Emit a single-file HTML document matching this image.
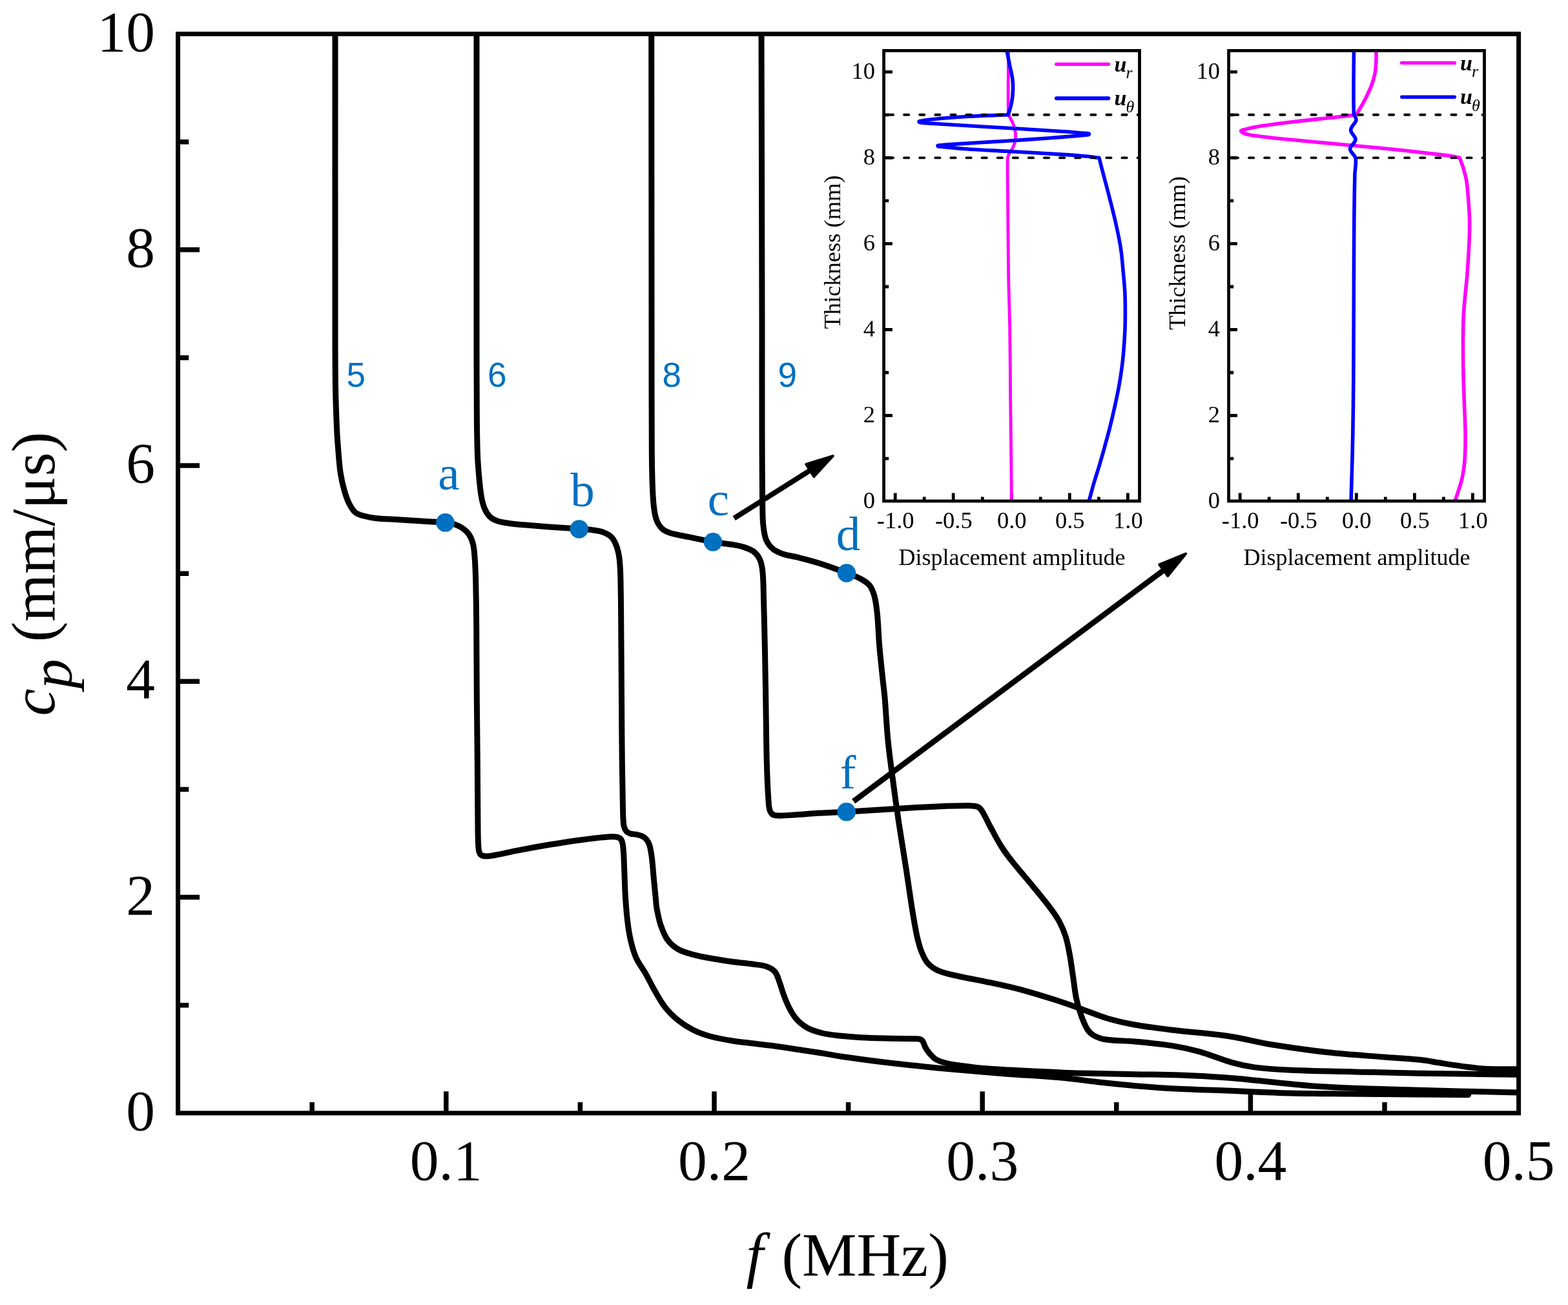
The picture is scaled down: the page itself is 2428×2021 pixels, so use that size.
<!DOCTYPE html>
<html lang="en"><head><meta charset="utf-8"><title>Dispersion curves</title>
<style>html,body{margin:0;padding:0;background:#fff}svg{display:block}text{font-family:"Liberation Serif","DejaVu Serif",serif;fill:#000}.sans{font-family:"Liberation Sans","DejaVu Sans",sans-serif}.it{font-style:italic}.bl{fill:#0070c0}</style></head><body>
<svg width="2428" height="2021" viewBox="0 0 2428 2021">
<rect width="2428" height="2021" fill="#fff"/>
<defs><clipPath id="pc"><rect x="275.6" y="52.6" width="2076" height="1671.2"/></clipPath></defs>
<g fill="none" stroke="#000" stroke-width="9" stroke-linejoin="round" stroke-linecap="butt" clip-path="url(#pc)">
<path d="M519 46C519 197.3 518.9 348.7 519 500C519 533.3 519 566.7 519.5 600C519.9 622.2 520.7 644.5 521.7 666.7C522.2 677.8 523.1 688.9 524 700C524.9 711 525.6 722.1 527.3 733C528.7 742.1 530.8 751.1 533.3 760C535.2 766.8 537.5 773.6 540.7 780C543.1 784.8 545.9 789.8 550 793.3C553.7 796.4 558.7 797.7 563.3 799C569.8 800.8 576.6 802 583.3 802.7C594.4 803.9 605.6 804 616.7 804.7C630 805.5 643.4 806.5 656.7 807.3C667.6 808 678.5 808.3 689.3 809.3C694 809.7 698.8 810.2 703.3 811.7C708 813.3 712.6 815.4 716.7 818.3C720.5 821 724.2 824.3 726.7 828.3C729.6 832.8 731.5 838 732.7 843.3C734.4 851 734.7 858.9 735.3 866.7C736.1 877.8 736.4 888.9 736.7 900C737.2 922.2 737.5 944.5 737.7 966.7C738 1004.5 738 1042.2 738.3 1080C738.6 1113.3 739 1146.7 739.3 1180C739.6 1213.3 739.6 1246.7 740 1280C740.1 1291.1 740 1302.2 741 1313.3C741.3 1316.8 741.8 1320.6 744 1323.3C745.8 1325.4 749 1325.9 751.7 1326C756.7 1326.2 761.7 1325.2 766.7 1324.3C777.9 1322.3 788.9 1319.4 800 1317.3C816.6 1314.1 833.3 1311.1 850 1308.3C866.6 1305.5 883.3 1303 900 1300.7C911.1 1299.2 922.2 1297.7 933.3 1296.7C939.9 1296.1 946.7 1295.2 953.3 1296C956.4 1296.4 960 1297.4 961.7 1300C964.3 1303.8 964.5 1308.8 965 1313.3C966.2 1324.4 966.2 1335.6 966.7 1346.7C967.3 1360 967.5 1373.4 968.3 1386.7C969.1 1400.1 970.1 1413.4 971.7 1426.7C972.9 1436.8 974.4 1446.8 976.7 1456.7C978.8 1465.7 981.2 1474.8 985 1483.3C989 1492.2 995.2 1499.8 1000 1508.3C1004.6 1516.5 1008.6 1525.1 1013.3 1533.3C1018.6 1542.4 1023.5 1551.7 1030 1560C1035.8 1567.4 1042.7 1574.1 1050 1580C1057.2 1585.8 1065 1590.9 1073.3 1595C1081.8 1599.3 1090.8 1602.5 1100 1605C1110.9 1608 1122.1 1609.9 1133.3 1611.7C1144.4 1613.5 1155.6 1614.6 1166.7 1616C1177.8 1617.4 1188.9 1618.5 1200 1620C1211.1 1621.5 1222.2 1623.3 1233.3 1625C1244.4 1626.7 1255.6 1628.2 1266.7 1630C1277.8 1631.8 1288.9 1634.1 1300 1635.7C1328.5 1639.8 1357.1 1643.7 1385.7 1647C1414.2 1650.3 1442.8 1653 1471.4 1655.7C1499.9 1658.3 1528.5 1660.7 1557 1662.9C1585.6 1665.1 1614.3 1666.4 1642.9 1669C1662 1670.7 1680.9 1673.6 1700 1675.7C1719 1677.8 1738 1679.7 1757 1681.4C1776.1 1683.1 1795.2 1684.7 1814.3 1685.7C1842.8 1687.2 1871.4 1687.9 1900 1689C1933.1 1690.3 1966.3 1692 1999.4 1692.9C2027.9 1693.7 2056.5 1693.7 2085 1694C2123.1 1694.4 2161.3 1694.7 2199.4 1695C2224.2 1695.2 2248.9 1695.3 2273.7 1695.4" stroke-linecap="round"/>
<path d="M738 46C738 197.3 737.9 348.7 738 500C738 544.3 738 588.7 738.3 633C738.4 655.3 738.6 677.7 739.3 700C739.6 711 740.4 722 741.3 733C742.3 744.3 743.2 755.5 745 766.7C746.1 773.5 747.5 780.3 750 786.7C751.9 791.6 754.6 796.3 758.3 800C761.5 803.2 765.7 805.3 770 806.7C776.4 808.9 783.3 809.7 790 810.7C798.9 812 807.8 812.5 816.7 813.3C827.8 814.3 838.9 815.2 850 816C865.6 817.1 881.1 817.9 896.7 819C903.4 819.5 910.1 819.8 916.7 820.7C922.3 821.5 928 822.1 933.3 824C938.1 825.8 943.1 828 946.7 831.7C950.6 835.8 953.1 841.3 955 846.7C957.3 853.1 958.5 859.9 959.3 866.7C960.5 877.7 960.8 888.9 961 900C961.7 933.3 961.7 966.7 962 1000C962.2 1026.7 962.3 1053.3 962.5 1080C962.7 1113.3 962.9 1146.7 963.3 1180C963.5 1200 963.9 1220 964.3 1240C964.5 1249.3 964.5 1258.7 965 1268C965.2 1272 965.3 1276.1 966.3 1280C967 1282.7 968.1 1285.5 970 1287.6C971.5 1289.3 973.8 1290.3 976 1291C979.1 1292 982.5 1291.7 985.7 1292.4C988.9 1293.1 992.1 1293.7 995 1295.2C997.5 1296.5 999.7 1298.3 1001.4 1300.5C1003.3 1302.9 1004.7 1305.7 1005.7 1308.6C1007 1312.3 1007.4 1316.2 1008.1 1320C1008.8 1324 1009.4 1328 1009.8 1332C1010.9 1342.4 1011.6 1352.9 1012.6 1363.3C1013.4 1372.2 1014.3 1381.1 1015.2 1390C1015.8 1395.7 1016 1401.4 1017 1407C1018.7 1415.9 1020.4 1424.8 1023.3 1433.3C1025.9 1440.8 1028.6 1448.6 1033.3 1455C1037.7 1461.1 1043.5 1466.2 1050 1470C1057.1 1474.1 1065.4 1476.1 1073.3 1478.3C1082.1 1480.8 1091 1482.4 1100 1484C1111.1 1486 1122.2 1487.7 1133.3 1489.3C1144.4 1490.8 1155.6 1491.8 1166.7 1493.3C1173.4 1494.2 1180.3 1494.5 1186.7 1496.7C1191.6 1498.4 1196.6 1501 1200 1505C1203.6 1509.2 1204.8 1514.9 1206.7 1520C1209.2 1526.6 1210.8 1533.4 1213.3 1540C1215.8 1546.8 1218.4 1553.6 1221.7 1560C1225 1566.4 1228.5 1572.9 1233.3 1578.3C1238.1 1583.6 1243.7 1588.3 1250 1591.7C1257.2 1595.6 1265.3 1598 1273.3 1600C1282 1602.1 1291.1 1603 1300 1604C1311.1 1605.2 1322.2 1606.1 1333.3 1606.7C1348.9 1607.5 1364.4 1607.8 1380 1608.2C1391.7 1608.5 1403.3 1608.5 1415 1608.8C1418 1608.9 1421.1 1608.5 1424 1609.2C1425.7 1609.6 1427.5 1610.5 1428.5 1612C1430.7 1615.2 1431.3 1619.3 1433.3 1622.7C1435.5 1626.5 1438.1 1630 1441 1633.3C1443.3 1635.9 1445.7 1638.4 1448.6 1640.2C1451.9 1642.3 1455.5 1643.6 1459.2 1644.8C1463.2 1646.1 1467.3 1647 1471.4 1647.8C1476.5 1648.8 1481.6 1649.4 1486.7 1650.1C1496.8 1651.5 1506.9 1653 1517.1 1653.9C1532.3 1655.3 1547.6 1656.1 1562.9 1657C1578.1 1657.9 1593.4 1658.5 1608.6 1659.2C1623.8 1660 1639.1 1660.9 1654.3 1661.5C1669.5 1662 1684.8 1662.2 1700 1662.5C1719 1662.9 1738 1663.3 1757 1663.7C1780.7 1664.2 1804.3 1664.1 1828 1665C1852 1665.9 1876 1667.3 1900 1669C1914.1 1670 1928.2 1671.5 1942.3 1672.9C1970.9 1675.7 1999.4 1679.1 2028 1681.5C2047 1683.1 2066 1683.9 2085 1684.8C2099.3 1685.5 2113.7 1685.8 2128 1686.3C2142.3 1686.8 2156.6 1687.2 2170.9 1687.6C2200.6 1688.4 2230.3 1689.3 2260 1690C2292.7 1690.8 2325.3 1691.3 2358 1692"/>
<path d="M1008.7 46C1008.8 197.3 1008.9 348.7 1009 500C1009.1 566.7 1008.8 633.3 1009.3 700C1009.5 722.2 1009.7 744.5 1011 766.7C1011.6 777.9 1012.3 789.1 1015 800C1016.5 806 1019.2 812 1023.3 816.7C1026.7 820.7 1031.7 823.3 1036.7 825C1046.4 828.3 1056.7 829.6 1066.7 831.7C1079.1 834.3 1091.5 837.1 1104 839.3C1113.7 841 1123.6 841.7 1133.3 843.3C1138.9 844.2 1144.6 845 1150 846.7C1155.8 848.6 1161.8 850.4 1166.7 854C1171 857.2 1174.5 861.8 1176.7 866.7C1179.4 872.9 1180.4 879.9 1181 886.7C1182.4 902.2 1182.2 917.8 1182.7 933.3C1183.3 955.5 1183.8 977.8 1184.3 1000C1184.8 1026.7 1185.3 1053.3 1185.7 1080C1186.3 1113.3 1186.4 1146.7 1187.3 1180C1187.8 1200 1188.6 1220 1190 1240C1190.4 1245.6 1190.4 1251.5 1192.7 1256.7C1194 1259.6 1196.9 1262.3 1200 1262.7C1211 1264.1 1222.2 1262.3 1233.3 1261.7C1244.4 1261.1 1255.6 1259.9 1266.7 1259.3C1281.4 1258.5 1296 1258.1 1310.7 1257.3C1340.5 1255.6 1370.2 1253.4 1400 1251.7C1422.2 1250.4 1444.5 1249.2 1466.7 1248.3C1477.8 1247.9 1488.9 1247.5 1500 1247.7C1504.5 1247.8 1509.1 1247.8 1513.3 1249.3C1516.1 1250.3 1518.4 1252.5 1520 1255C1525.2 1262.9 1528.8 1271.7 1533.3 1280C1538.8 1290 1543.9 1300.3 1550 1310C1555.1 1318.1 1560.8 1325.8 1566.7 1333.3C1577.5 1346.9 1589 1359.9 1600 1373.3C1609 1384.3 1618.2 1395.3 1626.7 1406.7C1631.5 1413.1 1636.2 1419.6 1640 1426.7C1644 1434.1 1647.5 1441.9 1650 1450C1653.1 1459.8 1654.8 1469.9 1656.7 1480C1658.7 1491 1660 1502.2 1661.7 1513.3C1663.4 1524.4 1664.4 1535.7 1666.7 1546.7C1668.3 1554.6 1670.6 1562.4 1673.3 1570C1676.1 1578 1678.9 1586.1 1683.3 1593.3C1685.7 1597.3 1689.2 1601 1693.3 1603.3C1699.4 1606.7 1706.3 1609 1713.3 1610C1727.7 1612.2 1742.5 1611.5 1757 1612.9C1776.1 1614.7 1795.3 1616.4 1814.3 1619.4C1828.7 1621.7 1843 1624.7 1857 1628.6C1874.3 1633.4 1890.8 1640.8 1908 1645.7C1919.2 1648.9 1930.7 1651.4 1942.3 1652.9C1961.2 1655.3 1980.3 1656.4 1999.4 1657.3C2027.9 1658.6 2056.5 1658.9 2085 1659.6C2099.3 1660 2113.7 1660.3 2128 1660.6C2151.8 1661.1 2175.6 1661.8 2199.4 1662.2C2252.3 1663.1 2305.1 1663.6 2358 1664.3"/>
<path d="M1179 46C1179.3 197.3 1179.8 348.7 1180 500C1180.1 555.6 1179.8 611.1 1180 666.7C1180.1 711.1 1180.2 755.6 1181 800C1181.1 806.7 1181.7 813.4 1182.7 820C1183.6 825.7 1184.3 831.5 1186.7 836.7C1189 841.7 1192.4 846.5 1196.7 850C1201.5 853.9 1207.5 856.3 1213.3 858.3C1219.7 860.5 1226.7 861 1233.3 862.7C1244.5 865.5 1255.7 868.2 1266.7 871.7C1281.6 876.4 1296.3 881.8 1311 887.3C1318.6 890.1 1326.2 892.8 1333.3 896.7C1338.2 899.4 1343.3 902.3 1346.7 906.7C1350.4 911.5 1352.4 917.5 1354 923.3C1356.3 932 1357.4 941 1358.3 950C1360 966.6 1360.3 983.4 1361.7 1000C1363.1 1016.7 1365 1033.3 1366.7 1050C1367.7 1060 1369.1 1070 1370 1080C1371.9 1102.2 1372.8 1124.5 1375 1146.7C1377.2 1169 1380.4 1191.1 1383.3 1213.3C1385.9 1233.3 1388.7 1253.3 1391.7 1273.3C1395.4 1297.8 1399.5 1322.2 1403.3 1346.7C1406.7 1368.9 1409.7 1391.1 1413.3 1413.3C1415.3 1425.6 1417.3 1437.9 1420 1450C1421.8 1457.9 1423.7 1465.8 1426.7 1473.3C1429.3 1479.8 1432.1 1486.5 1436.7 1491.7C1441.2 1496.8 1447.1 1500.6 1453.3 1503.3C1462.8 1507.4 1473.2 1509.4 1483.3 1511.7C1499.9 1515.5 1516.7 1518.1 1533.3 1521.7C1550 1525.3 1566.8 1528.9 1583.3 1533.3C1600.1 1537.8 1616.7 1543 1633.3 1548.3C1646.1 1552.4 1658.7 1556.9 1671.4 1561.4C1685.7 1566.5 1699.7 1572.6 1714.3 1577C1728.3 1581.2 1742.6 1584.4 1757 1587C1776 1590.4 1795.2 1592.7 1814.3 1595C1842.8 1598.5 1871.6 1600.1 1900 1604.3C1923.8 1607.8 1947.1 1614.1 1970.9 1618C1999.4 1622.6 2027.9 1626.6 2056.6 1629.8C2085.1 1633 2113.7 1634.7 2142.3 1637C2161.3 1638.5 2180.4 1639.4 2199.4 1641.3C2209 1642.3 2218.5 1644.3 2228 1645.8C2242.3 1648 2256.6 1650.3 2271 1652.2C2280.5 1653.4 2290 1654.8 2299.6 1655.2C2319.1 1656 2338.5 1655.6 2358 1655.8"/>
</g>
<g stroke="#000" fill="none">
<rect x="275.6" y="52.6" width="2076" height="1671.2" stroke-width="7"/>
<path d="M483.2 1723.8V1707.1M690.8 1723.8V1690.3M898.4 1723.8V1707.1M1106 1723.8V1690.3M1313.6 1723.8V1707.1M1521.2 1723.8V1690.3M1728.8 1723.8V1707.1M1936.4 1723.8V1690.3M2144 1723.8V1707.1M275.6 1556.7H292.3M275.6 1389.6H309.1M275.6 1222.4H292.3M275.6 1055.3H309.1M275.6 888.2H292.3M275.6 721.1H309.1M275.6 554H292.3M275.6 386.8H309.1M275.6 219.7H292.3" stroke-width="7.5"/>
</g>
<g font-size="89.5">
<text x="240" y="1749.8" text-anchor="end">0</text>
<text x="240" y="1415.6" text-anchor="end">2</text>
<text x="240" y="1081.3" text-anchor="end">4</text>
<text x="240" y="747.1" text-anchor="end">6</text>
<text x="240" y="412.8" text-anchor="end">8</text>
<text x="240" y="78.6" text-anchor="end">10</text>
<text x="690.8" y="1826.5" text-anchor="middle">0.1</text>
<text x="1106" y="1826.5" text-anchor="middle">0.2</text>
<text x="1521.2" y="1826.5" text-anchor="middle">0.3</text>
<text x="1936.4" y="1826.5" text-anchor="middle">0.4</text>
<text x="2351.6" y="1826.5" text-anchor="middle">0.5</text>
</g>
<text y="1976" font-size="95"><tspan class="it" x="1155.5">f</tspan><tspan x="1210.4">(MHz)</tspan></text>
<text transform="translate(84.2,888.8) rotate(-90)" font-size="95" text-anchor="middle"><tspan class="it">c</tspan><tspan class="it" dy="27" font-size="92">p</tspan><tspan dy="-27" dx="2.4"> (mm/μs)</tspan></text>
<g><defs><clipPath id="ic1"><rect x="1368.6" y="78.4" width="395.9" height="700"/></clipPath></defs><path d="M1368.6 710.1H1376.2M1368.6 643.5H1381.9M1368.6 577H1376.2M1368.6 510.5H1381.9M1368.6 444H1376.2M1368.6 377.4H1381.9M1368.6 310.9H1376.2M1368.6 244.4H1381.9M1368.6 177.8H1376.2M1368.6 111.3H1381.9M1386.2 776V763.6M1431.2 776V769.5M1476.2 776V763.6M1521.3 776V769.5M1566.3 776V763.6M1611.3 776V769.5M1656.3 776V763.6M1701.4 776V769.5M1746.4 776V763.6" stroke="#000" stroke-width="4.8" fill="none"/><g clip-path="url(#ic1)" fill="none" stroke-linejoin="round"><path d="M1561.6 76C1561.5 107.7 1560.9 139.3 1561.2 171C1561.2 173.8 1561.7 176.7 1562.7 179.4C1564.3 183.8 1567.4 187.6 1569 192C1570.7 196.7 1572 201.7 1572.5 206.7C1572.9 210.9 1572.5 215.1 1571.7 219.2C1571 222.8 1569.5 226.3 1567.9 229.7C1566.1 233.4 1563.1 236.4 1561.6 240.2C1560.5 242.8 1560.2 245.8 1560.2 248.6C1559.9 269.5 1560.4 290.5 1560.6 311.4C1560.9 349.6 1561 387.8 1561.6 426C1562 454 1563.3 482 1563.7 510C1564.3 549.8 1564.4 589.7 1564.8 629.5C1565.1 657.4 1565.5 685.4 1565.8 713.3C1566 734.2 1566.2 755.1 1566.4 776" stroke="#ff00ff" stroke-width="4.8"/><path d="M1558.5 76C1560.2 84.6 1562 93.3 1563.7 101.9C1565.1 108.9 1567 115.8 1567.9 122.9C1568.6 128.4 1568.7 134 1568.5 139.6C1568.3 145.2 1567.9 150.9 1566.9 156.4C1565.9 162.1 1564.3 167.6 1562.7 173.1C1562.2 174.7 1561.3 176.2 1560.6 177.8C1539.3 178.7 1518 179.2 1496.7 180.5C1479.2 181.5 1461.7 183 1444.3 184.7C1438.3 185.3 1432.4 186.1 1426.5 187.2C1425.3 187.4 1423 187.3 1423 188.6C1423 189.9 1425.3 189.9 1426.5 190C1435.9 191 1445.4 191.4 1454.8 192C1489.7 194.2 1524.6 196.2 1559.5 198.3C1587.4 200 1615.4 201.6 1643.3 203.5C1656.5 204.4 1669.8 205.3 1683 206.6C1684.2 206.7 1686.5 206.5 1686.5 207.7C1686.5 208.9 1684.2 208.8 1683 208.9C1662.8 210.9 1642.6 212.5 1622.4 214C1601.4 215.6 1580.5 216.9 1559.5 218.2C1531.6 220 1503.6 221.6 1475.7 223.4C1468.8 223.8 1461.9 224.3 1455 225C1454 225.1 1452 224.9 1452 225.9C1452 227 1454 226.8 1455 226.9C1468.9 228.4 1482.8 229.8 1496.7 230.8C1517.6 232.3 1538.6 233.1 1559.5 234.3C1587.4 235.9 1615.4 237.3 1643.3 239.1C1657.3 240 1671.2 241 1685.2 242.3C1690.8 242.8 1696.4 243.7 1702 244.4C1703.4 250 1704.8 255.5 1706.2 261.1C1709.7 274.4 1713.3 287.7 1716.7 301C1720.3 314.9 1723.9 328.9 1727.1 342.9C1730.2 356.8 1733.4 370.7 1735.5 384.8C1737.6 398.5 1738.4 412.4 1739.7 426.2C1740.5 434.6 1741.4 443 1741.8 451.4C1742.3 461.9 1742.4 472.4 1742.4 482.9C1742.4 493.4 1742.3 503.8 1741.8 514.3C1741.1 528.3 1740.2 542.3 1738.7 556.2C1737.4 568.8 1735.5 581.4 1733.4 593.9C1731.6 604.4 1729.4 614.9 1727.1 625.3C1724.5 637.2 1721.8 649.1 1718.8 661C1716.2 671.5 1713.3 682 1710.4 692.4C1707.7 702.2 1704.9 712 1702 721.7C1699.3 730.8 1696.2 739.9 1693.6 749C1691 758 1688.7 767 1686.3 776" stroke="#0000ff" stroke-width="5.6"/></g><path d="M1376 177.8H1764.5" stroke="#000" stroke-width="3.9" stroke-dasharray="7.15 16.95" stroke-linecap="round" fill="none"/><path d="M1376 244.4H1764.5" stroke="#000" stroke-width="3.9" stroke-dasharray="7.15 16.95" stroke-linecap="round" fill="none"/><rect x="1368.6" y="78.4" width="395.9" height="697.6" stroke="#000" stroke-width="4.8" fill="none"/><g font-size="36.5"><text x="1355.1" y="786.8" text-anchor="end">0</text><text x="1355.1" y="653.7" text-anchor="end">2</text><text x="1355.1" y="520.7" text-anchor="end">4</text><text x="1355.1" y="387.6" text-anchor="end">6</text><text x="1355.1" y="254.6" text-anchor="end">8</text><text x="1355.1" y="121.5" text-anchor="end">10</text><text x="1386.7" y="818.2" text-anchor="middle">-1.0</text><text x="1476.8" y="818.2" text-anchor="middle">-0.5</text><text x="1566.8" y="818.2" text-anchor="middle">0.0</text><text x="1656.8" y="818.2" text-anchor="middle">0.5</text><text x="1746.9" y="818.2" text-anchor="middle">1.0</text><text x="1567" y="874.5" text-anchor="middle" font-size="36">Displacement amplitude</text><text transform="translate(1301,390.5) rotate(-90)" text-anchor="middle">Thickness (mm)</text></g><path d="M1635.7 99.4H1716.5" stroke="#ff00ff" stroke-width="5.2" stroke-linecap="round" fill="none"/><path d="M1635.9 152.2H1716.3" stroke="#0000ff" stroke-width="6" stroke-linecap="round" fill="none"/><text class="it" x="1725.5" y="110.5" font-size="34" font-weight="bold">u<tspan dy="10.4" dx="-1" font-size="26" font-weight="normal">r</tspan></text><text class="it" x="1725.5" y="163.3" font-size="34" font-weight="bold">u<tspan dy="10.4" dx="-1" font-size="26" font-weight="normal">θ</tspan></text></g>
<g><defs><clipPath id="ic2"><rect x="1902.6" y="78.4" width="395.9" height="700"/></clipPath></defs><path d="M1902.6 710.1H1910.2M1902.6 643.5H1915.9M1902.6 577H1910.2M1902.6 510.5H1915.9M1902.6 444H1910.2M1902.6 377.4H1915.9M1902.6 310.9H1910.2M1902.6 244.4H1915.9M1902.6 177.8H1910.2M1902.6 111.3H1915.9M1920.2 776V763.6M1965.2 776V769.5M2010.3 776V763.6M2055.3 776V769.5M2100.3 776V763.6M2145.3 776V769.5M2190.4 776V763.6M2235.4 776V769.5M2280.4 776V763.6" stroke="#000" stroke-width="4.8" fill="none"/><g clip-path="url(#ic2)" fill="none" stroke-linejoin="round"><path d="M2130.8 76C2130.9 81.8 2131.2 87.7 2131 93.5C2130.7 99.8 2130.4 106.2 2129.3 112.4C2128.1 118.8 2126.3 125.1 2124.1 131.2C2121.5 138.4 2118.1 145.3 2114.7 152.2C2111.5 158.6 2107.8 164.8 2104.2 171C2102.9 173.3 2101.4 175.5 2100 177.8C2089.5 179 2079.1 180.3 2068.6 181.5C2047.6 183.8 2026.6 185.7 2005.7 188.2C1988.2 190.3 1970.7 192.4 1953.3 195.1C1944.9 196.4 1936.5 198.2 1928.2 200.4C1925.9 201 1920.5 201.6 1921.9 203.5C1924.6 207.1 1930 208 1934.5 208.8C1951.1 211.8 1968 213.2 1984.8 215C2005.7 217.2 2026.7 218.9 2047.6 220.9C2063.9 222.4 2080.1 224 2096.4 225.5C2115.1 227.3 2133.7 228.9 2152.4 230.8C2173.3 233 2194.3 235.3 2215.2 237.7C2226.4 239 2237.6 240.2 2248.8 241.9C2252.7 242.5 2256.5 243.6 2260.3 244.4C2262 249.3 2264 254 2265.5 259C2267.5 265.9 2269.7 272.9 2270.8 280C2272.5 290.4 2273.1 300.9 2273.9 311.4C2274.7 321.9 2275.4 332.4 2275.6 342.9C2275.8 353.4 2275.5 363.8 2275 374.3C2274.2 391.6 2273.1 408.9 2271.8 426.2C2270.3 445.1 2267.8 464 2266.6 482.9C2265.7 496.8 2265.6 510.8 2265.5 524.8C2265.4 542.2 2265.6 559.7 2265.9 577.1C2266.3 594.6 2267 612 2267.6 629.5C2268.1 643.5 2269 657.4 2269.1 671.4C2269.2 685.4 2269 699.4 2268 713.3C2267.4 721.8 2266.2 730.2 2264.5 738.5C2263.2 744.9 2261.1 751.1 2259.2 757.3C2257.3 763.6 2255.1 769.8 2253 776" stroke="#ff00ff" stroke-width="5.6"/><path d="M2096.4 76C2096.4 109.4 2095.3 142.9 2096.4 176.3C2096.5 179.7 2100.6 182.4 2100 185.7C2098.9 191.5 2091.8 195.5 2091.6 201.4C2091.4 206.9 2099.2 210.6 2099 216.1C2098.8 221.7 2090.6 225.2 2090.6 230.8C2090.6 236.2 2098 239.5 2099 244.8C2100.5 252.9 2098.1 261.3 2097.9 269.5C2097.4 290.5 2097.1 311.4 2096.9 332.4C2096.6 363.7 2096.5 394.9 2096.4 426.2C2096.2 480 2096.2 533.8 2095.8 587.6C2095.6 615.5 2095.3 643.5 2094.8 671.4C2094.4 692.4 2093.9 713.3 2093.3 734.3C2092.9 748.2 2092.4 762.1 2092 776" stroke="#0000ff" stroke-width="5.6"/></g><path d="M1910 177.8H2298.5" stroke="#000" stroke-width="3.9" stroke-dasharray="7.15 16.95" stroke-linecap="round" fill="none"/><path d="M1910 244.4H2298.5" stroke="#000" stroke-width="3.9" stroke-dasharray="7.15 16.95" stroke-linecap="round" fill="none"/><rect x="1902.6" y="78.4" width="395.9" height="697.6" stroke="#000" stroke-width="4.8" fill="none"/><g font-size="36.5"><text x="1889.1" y="786.8" text-anchor="end">0</text><text x="1889.1" y="653.7" text-anchor="end">2</text><text x="1889.1" y="520.7" text-anchor="end">4</text><text x="1889.1" y="387.6" text-anchor="end">6</text><text x="1889.1" y="254.6" text-anchor="end">8</text><text x="1889.1" y="121.5" text-anchor="end">10</text><text x="1920.7" y="818.2" text-anchor="middle">-1.0</text><text x="2010.8" y="818.2" text-anchor="middle">-0.5</text><text x="2100.8" y="818.2" text-anchor="middle">0.0</text><text x="2190.9" y="818.2" text-anchor="middle">0.5</text><text x="2280.9" y="818.2" text-anchor="middle">1.0</text><text x="2101" y="874.5" text-anchor="middle" font-size="36">Displacement amplitude</text><text transform="translate(1835,392) rotate(-90)" text-anchor="middle">Thickness (mm)</text></g><path d="M2170.5 97.4H2252.5" stroke="#ff00ff" stroke-width="5.2" stroke-linecap="round" fill="none"/><path d="M2170.7 150.2H2252.3" stroke="#0000ff" stroke-width="5.4" stroke-linecap="round" fill="none"/><text class="it" x="2261" y="108.5" font-size="34" font-weight="bold">u<tspan dy="10.4" dx="-1" font-size="26" font-weight="normal">r</tspan></text><text class="it" x="2261" y="161.3" font-size="34" font-weight="bold">u<tspan dy="10.4" dx="-1" font-size="26" font-weight="normal">θ</tspan></text></g>
<path d="M1136.7 802.7L1255.3 727.9" stroke="#000" stroke-width="8" fill="none"/><path d="M1289.8 706.2L1260.3 738.1L1248.3 719Z" fill="#000" stroke="#000" stroke-width="4" stroke-linejoin="round"/><path d="M1321.7 1241L1802.7 882.5" stroke="#000" stroke-width="8.6" fill="none"/><path d="M1836.2 857.5L1808.3 892L1795.2 874.4Z" fill="#000" stroke="#000" stroke-width="4" stroke-linejoin="round"/>
<g fill="#0070c0">
<circle cx="689.5" cy="809.3" r="14.3"/>
<circle cx="896.7" cy="819.5" r="14.3"/>
<circle cx="1104" cy="839.3" r="14.3"/>
<circle cx="1311" cy="887.5" r="14.3"/>
<circle cx="1310.7" cy="1257.3" r="14.3"/>
</g>
<g class="bl" fill="#0070c0"><text class="sans bl" x="536.5" y="598.5" font-size="53">5</text><text class="sans bl" x="755" y="598.5" font-size="53">6</text><text class="sans bl" x="1025.5" y="598.5" font-size="53">8</text><text class="sans bl" x="1204.5" y="598.5" font-size="53">9</text><text class="bl" x="695" y="757.5" font-size="75" text-anchor="middle">a</text><text class="bl" x="902" y="784" font-size="75" text-anchor="middle">b</text><text class="bl" x="1112.5" y="798" font-size="75" text-anchor="middle">c</text><text class="bl" x="1313.5" y="852.3" font-size="75" text-anchor="middle">d</text><text class="bl" x="1313" y="1220.5" font-size="75" text-anchor="middle">f</text></g>
</svg></body></html>
